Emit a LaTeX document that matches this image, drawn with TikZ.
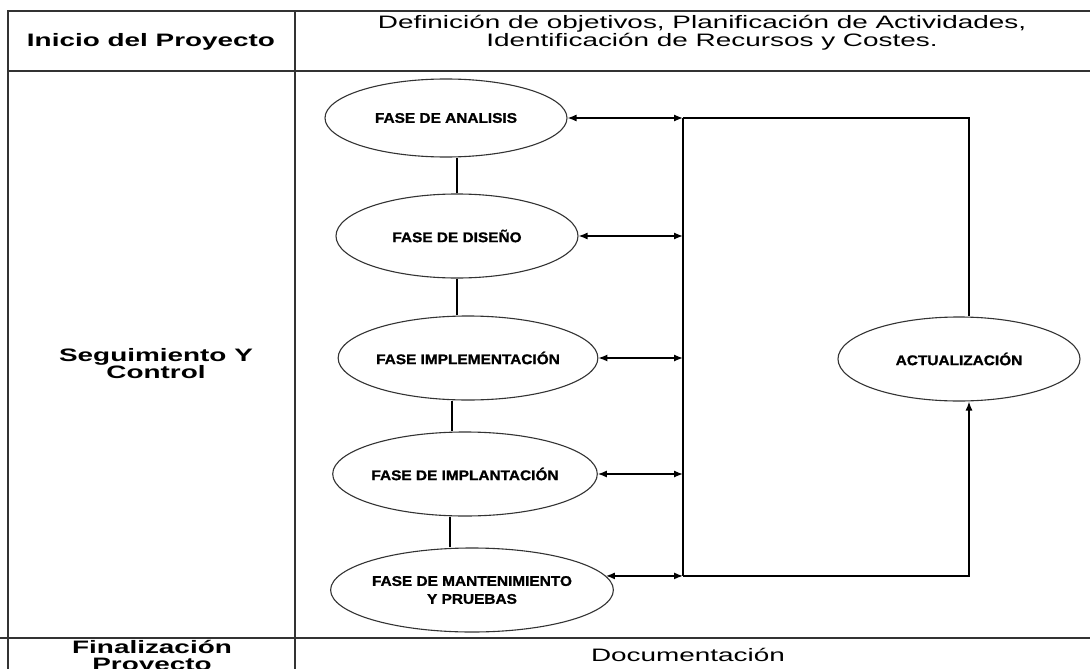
\documentclass[tikz,border=0pt]{standalone}
\usepackage{fontspec}
\usetikzlibrary{arrows.meta,shapes.geometric}
\newfontfamily\tabfont[FakeStretch=1.55]{Liberation Sans}
\newfontfamily\elfont[FakeStretch=1.1,FakeBold=1.2]{Liberation Sans}
\begin{document}
\begin{tikzpicture}[x=1pt,y=-1pt,
  tab/.style={draw=black!80, line width=1.6pt},
  ell/.style={ellipse, draw=black!80, line width=1.1pt, minimum width=242pt, minimum height=84pt, inner sep=0pt,
    font=\elfont\bfseries\fontsize{14}{16}\selectfont, align=center},
  conn/.style={line width=1.3pt, draw=black},
  tip/.tip={Latex[length=9pt,width=7pt]},
  biarrow/.style={conn, tip-tip},
  lab/.style={font=\tabfont\fontsize{18}{20}\selectfont, inner sep=0pt, anchor=base},
  blab/.style={font=\tabfont\bfseries\fontsize{18}{20}\selectfont, inner sep=0pt, anchor=base}]
\useasboundingbox (0,0) rectangle (1090,669);
\clip (0,0) rectangle (1090,669);
\fill[white] (0,0) rectangle (1090,669);
% table
\draw[tab] (1090,11) -- (8,11) -- (8,669);
\draw[tab] (295,11) -- (295,669);
\draw[tab] (8,71) -- (1090,71);
\draw[tab] (0,638) -- (1090,638);
% table texts
\node[blab] (inicio) at (151,47) {Inicio del Proyecto};
\node[lab] (def1) at (702,29) {Definición de objetivos, Planificación de Actividades,};
\node[lab] (def2) at (712,47) {Identificación de Recursos y Costes.};
\node[blab] (seg1) at (156,361) {Seguimiento Y};
\node[blab] (seg2) at (156,378) {Control};
\node[blab] (fin1) at (152,653) {Finalización};
\node[blab] (fin2) at (152,670) {Proyecto};
\node[lab] (doc) at (688,661) {Documentación};
% ellipses
\node[ell, minimum height=78pt] (a1) at (446,118) {FASE DE ANALISIS};
\node[ell] (a2) at (457,236) {FASE DE DISEÑO};
\node[ell] (a3) at (468,358) {FASE IMPLEMENTACIÓN};
\node[ell] (a4) at (465,474) {FASE DE IMPLANTACIÓN};
\node[ell] (a5) at (472,590) {\raisebox{-9pt}{\shortstack{FASE DE MANTENIMIENTO\\[5pt]Y PRUEBAS}}};
\node[ell] (act) at (959,359) {ACTUALIZACIÓN};
% vertical links between phases
\draw[conn] (a2.north) -- (a2.north |- a1.south);
\draw[conn] (a2.south) -- (a2.south |- a3.north);
\draw[conn] (452,0 |- a3.south) -- (452,0 |- a4.north);
\draw[conn] (450,0 |- a4.south) -- (450,0 |- a5.north);
% bus
\coordinate (bt) at (683,0 |- a1.east);
\coordinate (bb) at (683,0 |- a5.6);
\coordinate (rt) at (969,0 |- a1.east);
\coordinate (rb) at (969,0 |- a5.6);
\draw[conn] (bt) -- (bb);
\draw[conn] (bt) -- (rt) -- (rt |- act.north);
\draw[conn, -tip] (bb) -- (rb) -- (rb |- act.south);
% double arrows
\draw[biarrow] (a1.east) -- (a1.east -| bt);
\draw[biarrow] (a2.east) -- (a2.east -| bt);
\draw[biarrow] (a3.east) -- (a3.east -| bt);
\draw[biarrow] (a4.east) -- (a4.east -| bt);
\draw[biarrow] (a5.6) -- (a5.6 -| bt);
\end{tikzpicture}
\end{document}
